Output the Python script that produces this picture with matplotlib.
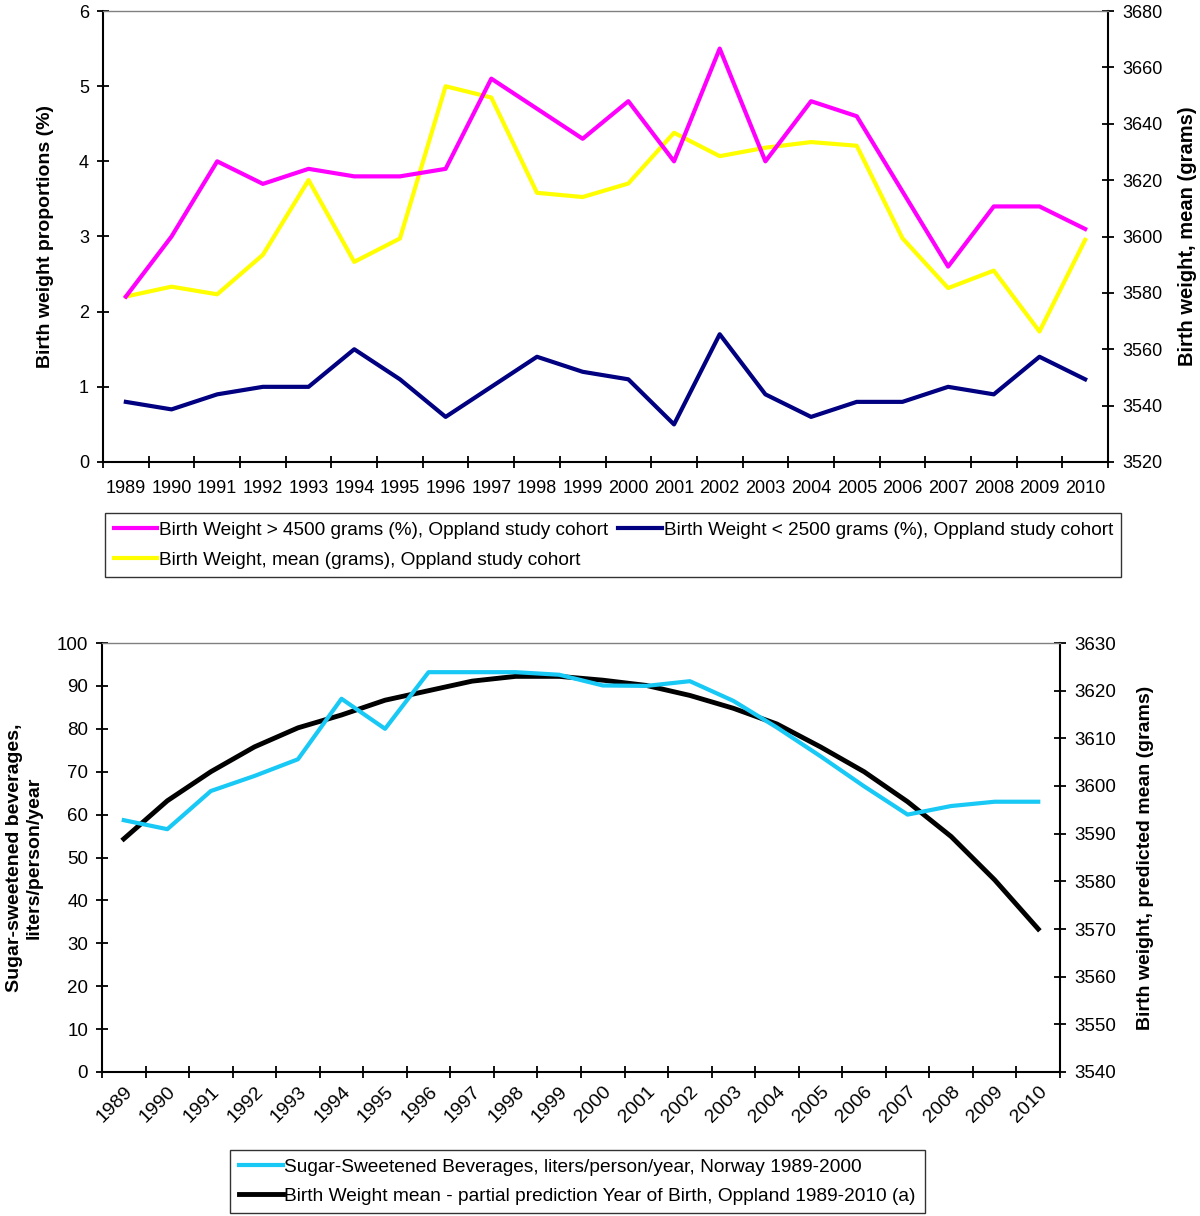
import numpy as np
import matplotlib
matplotlib.use("Agg")
import matplotlib.pyplot as plt
from matplotlib.ticker import FixedLocator, NullFormatter
from matplotlib.transforms import ScaledTranslation

plt.rcParams["font.family"] = ["Liberation Sans", "DejaVu Sans"]

years = [str(y) for y in range(1989, 2011)]

# top panel: proportions (%) on left axis, mean grams on right axis
over_4500 = [2.2, 3.0, 4.0, 3.7, 3.9, 3.8, 3.8, 3.9, 5.1, 4.7, 4.3,
             4.8, 4.0, 5.5, 4.0, 4.8, 4.6, 3.6, 2.6, 3.4, 3.4, 3.1]
under_2500 = [0.8, 0.7, 0.9, 1.0, 1.0, 1.5, 1.1, 0.6, 1.0, 1.4, 1.2,
              1.1, 0.5, 1.7, 0.9, 0.6, 0.8, 0.8, 1.0, 0.9, 1.4, 1.1]
mean_weight = [3578.7, 3582.2, 3579.5, 3593.5, 3620, 3591, 3599.3, 3653.3, 3649.3, 3615.5, 3614,
               3618.8, 3636.8, 3628.5, 3631.5, 3633.5, 3632.2, 3599.4, 3581.7, 3587.9, 3566.3, 3598.8]

# bottom panel: sugar-sweetened beverages and predicted birth weight
ssb = [58.7, 56.6, 65.5, 69.0, 72.9, 87.0, 80.0, 93.2, 93.2, 93.2, 92.6,
       90.1, 90.0, 91.1, 86.5, 80.3, 73.6, 66.6, 60.0, 62.0, 63.0, 63.0]
predicted = [3588.9, 3596.9, 3603.0, 3608.2, 3612.2, 3614.9, 3618.0, 3620.0, 3622.0, 3623.0, 3623.0,
             3622.2, 3621.1, 3619.0, 3616.3, 3613.0, 3608.2, 3603.0, 3596.7, 3589.4, 3580.3, 3570.0]

GREY_BG = "#C0C0C0"

fig = plt.figure(figsize=(12, 12.16), dpi=100)
x = np.arange(len(years)) + 0.5


def style_axes(ax, ax2, fs):
    ax.set_facecolor(GREY_BG)
    ax.set_xlim(0, len(years))
    ax.spines["top"].set_color("#808080")
    ax.spines["top"].set_linewidth(1)
    ax2.spines["top"].set_visible(False)
    for sp in ["left", "bottom"]:
        ax.spines[sp].set_linewidth(1.5)
    ax2.spines["right"].set_linewidth(1.5)
    ax.spines["right"].set_visible(False)
    ax2.spines["left"].set_visible(False)
    ax2.spines["bottom"].set_visible(False)
    ax.tick_params(axis="y", direction="inout", length=8, width=1.3, pad=6, labelsize=fs)
    ax2.tick_params(axis="y", direction="inout", length=8, width=1.3, pad=6, labelsize=fs)
    ax.xaxis.set_major_locator(FixedLocator(np.arange(len(years) + 1)))
    ax.xaxis.set_major_formatter(NullFormatter())
    ax.xaxis.set_minor_locator(FixedLocator(x))
    ax.tick_params(axis="x", which="major", direction="inout", length=8, width=1.3)
    ax.tick_params(axis="x", which="minor", length=0, labelsize=fs)


# ---- top chart
ax1 = fig.add_axes([103 / 1200, 1 - 462 / 1216, 1005 / 1200, 451 / 1216])
ax1r = ax1.twinx()
style_axes(ax1, ax1r, 13)
l1, = ax1.plot(x, over_4500, color="#FF00FF", lw=3)
l2, = ax1.plot(x, under_2500, color="#000080", lw=3)
l3, = ax1r.plot(x, mean_weight, color="#FFFF00", lw=3)
ax1.set_ylim(0, 6)
ax1.set_yticks(range(0, 7))
ax1r.set_ylim(3520, 3680)
ax1r.set_yticks(range(3520, 3681, 20))
ax1.xaxis.set_minor_formatter(plt.FixedFormatter(years))
ax1.tick_params(axis="x", which="minor", pad=13)
ax1.set_ylabel("Birth weight proportions (%)", fontsize=14, fontweight="bold", labelpad=18)
ax1r.set_ylabel("Birth weight, mean (grams)", fontsize=14.5, fontweight="bold", labelpad=11)
ax1.set_zorder(ax1r.get_zorder() + 1)
ax1.patch.set_visible(False)
ax1r.set_facecolor(GREY_BG)

leg1 = fig.legend([l1, l3, l2],
                  ["Birth Weight > 4500 grams (%), Oppland study cohort",
                   "Birth Weight, mean (grams), Oppland study cohort",
                   "Birth Weight < 2500 grams (%), Oppland study cohort"],
                  ncol=2, loc="upper left", bbox_to_anchor=(105 / 1200, 1 - 513 / 1216),
                  frameon=True, fancybox=False, fontsize=13.7, handlelength=2.3,
                  handletextpad=0.1, columnspacing=0.5, borderaxespad=0, borderpad=0.45,
                  labelspacing=0.65)
leg1.get_frame().set_edgecolor("black")
leg1.get_frame().set_linewidth(1)

# ---- bottom chart
ax2 = fig.add_axes([102 / 1200, 1 - 1072 / 1216, 958 / 1200, 429 / 1216])
ax2r = ax2.twinx()
style_axes(ax2, ax2r, 13.5)
c1, = ax2.plot(x, ssb, color="#18C8F5", lw=3)
c2, = ax2r.plot(x, predicted, color="black", lw=3.5)
ax2.set_ylim(0, 100)
ax2.set_yticks(range(0, 101, 10))
ax2r.set_ylim(3540, 3630)
ax2r.set_yticks(range(3540, 3631, 10))
ax2.xaxis.set_minor_formatter(plt.FixedFormatter(years))
shift = ScaledTranslation(-10 / 100, -3 / 100, fig.dpi_scale_trans)
for lab in ax2.get_xticklabels(minor=True):
    lab.set_rotation(45)
    lab.set_ha("right")
    lab.set_rotation_mode("anchor")
    lab.set_fontsize(14)
    lab.set_transform(lab.get_transform() + shift)
ax2.tick_params(axis="x", which="minor", pad=8)
ax2.set_ylabel("Sugar-sweetened beverages,\nliters/person/year", fontsize=14,
               fontweight="bold", labelpad=10)
ax2r.set_ylabel("Birth weight, predicted mean (grams)", fontsize=14, fontweight="bold",
                labelpad=15)
ax2.set_zorder(ax2r.get_zorder() + 1)
ax2.patch.set_visible(False)
ax2r.set_facecolor(GREY_BG)

leg2 = fig.legend([c1, c2],
                  ["Sugar-Sweetened Beverages, liters/person/year, Norway 1989-2000",
                   "Birth Weight mean - partial prediction Year of Birth, Oppland 1989-2010 (a)"],
                  loc="upper left", bbox_to_anchor=(230 / 1200, 1 - 1150 / 1216),
                  frameon=True, fancybox=False, fontsize=13.75, handlelength=2.3,
                  handletextpad=0.1, borderaxespad=0, borderpad=0.45, labelspacing=0.6)
leg2.get_frame().set_edgecolor("black")
leg2.get_frame().set_linewidth(1)

fig.savefig("out.png", dpi=100, facecolor="white")
